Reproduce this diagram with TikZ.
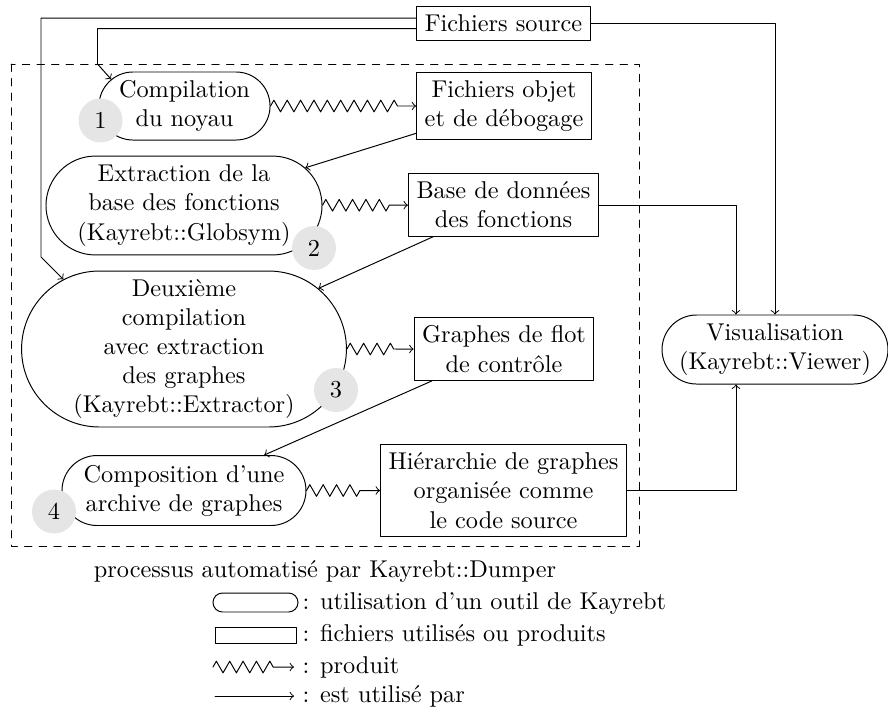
\documentclass[tikz,border=0pt]{standalone}
\usepackage{amssymb, amsmath}
\usepackage{pgf,tikz}
\usetikzlibrary{shapes.misc}
\usetikzlibrary{decorations.pathmorphing}

\begin{document}
\begin{tikzpicture}[line cap=round,line join=round,>=to,x=0.01446cm,y=-0.01446cm,
  outil/.style={draw, rounded rectangle, align=center, inner xsep=-12pt},
  fichier/.style={draw, rectangle, align=center},
  etape/.style={circle, fill=black!10, minimum size=18.1pt, inner sep=0pt},
  produit/.style={->, decorate, decoration={zigzag, amplitude=2.4pt, segment length=5.5pt, post length=6pt}}]
\useasboundingbox (0,0) rectangle (888,713);
\draw [dashed] (11,64) rectangle (639,546);
% outils
\node [outil, minimum width=46.4pt, minimum height=28pt] (comp) at (184.5,106) {Compilation\\du noyau};
\node [outil, minimum width=89.6pt, minimum height=40.7pt] (extr) at (184,205.5) {Extraction de la\\base des fonctions\\(Kayrebt::Globsym)};
\node [outil, minimum width=109.7pt, minimum height=64.2pt] (deux) at (184,349) {Deuxi\`eme\\compilation\\avec extraction\\des graphes\\(Kayrebt::Extractor)};
\node [outil, minimum width=76.4pt, minimum height=28.8pt] (compo) at (184,490.5) {Composition d'une\\archive de graphes};
\node [outil, minimum width=69pt, minimum height=28.4pt] (visu) at (775,349.5) {Visualisation\\(Kayrebt::Viewer)};
% fichiers
\node [fichier] (src) at (503.5,23.5) {Fichiers source};
\node [fichier] (objet) at (504,106) {Fichiers objet\\et de d\'ebogage};
\node [fichier] (base) at (503.5,205) {Base de donn\'ees\\des fonctions};
\node [fichier] (graphes) at (504,349) {Graphes de flot\\de contr\^ole};
\node [fichier] (hier) at (503.5,490.5) {Hi\'erarchie de graphes\\organis\'ee comme\\le code source};
% etapes
\node [etape] (e1) at (100.5,120.5) {1};
\node [etape] (e2) at (314,248) {2};
\node [etape] (e3) at (336,390) {3};
\node [etape] (e4) at (54,511.5) {4};
% produit
\draw [produit] (comp) -- (objet);
\draw [produit] (extr) -- (base);
\draw [produit] (deux) -- (graphes);
\draw [produit] (compo) -- (hier);
% est utilise par
\coordinate (coudeA) at (41,257);
\coordinate (coudeB) at (97.5,64);
\coordinate (colV) at (736,0);
\draw [->] ([yshift=2.2pt]src.west) -| (coudeA) -- (deux.150);
\draw [->] ([yshift=-2.1pt]src.west) -| (coudeB) -- (comp.160);
\draw [->] (objet) -- (extr);
\draw [->] (base) -- (deux);
\draw [->] (graphes) -- (compo);
\draw [->] (src.east) -| (visu.north);
\draw [->] (base.east) -| (colV |- visu.north);
\draw [->] (hier.east) -| (colV |- visu.south);
\node (dumper) at (325,571) {processus automatis\'e par Kayrebt::Dumper};
% legende
\node [outil, inner sep=0pt, minimum width=35pt, minimum height=7.8pt] (legOutil) at (255.5,602.5) {};
\node [fichier, inner sep=0pt, minimum width=33.6pt, minimum height=6.6pt] (legFich) at (256,635) {};
\node [anchor=west] (txtOutil) at (294,603.5) {: utilisation d'un outil de Kayrebt};
\node [anchor=west] (txtFich) at (294,635.5) {: fichiers utilis\'es ou produits};
\node [anchor=west] (txtProduit) at (294,667) {: produit};
\node [anchor=west] (txtUtilise) at (294,696) {: est utilis\'e par};
\coordinate (zA) at (213,667);
\coordinate (fA) at (215,696);
\draw [produit] (zA) -- (txtProduit.west);
\draw [->] (fA) -- (txtUtilise.west);
\end{tikzpicture}
\end{document}
